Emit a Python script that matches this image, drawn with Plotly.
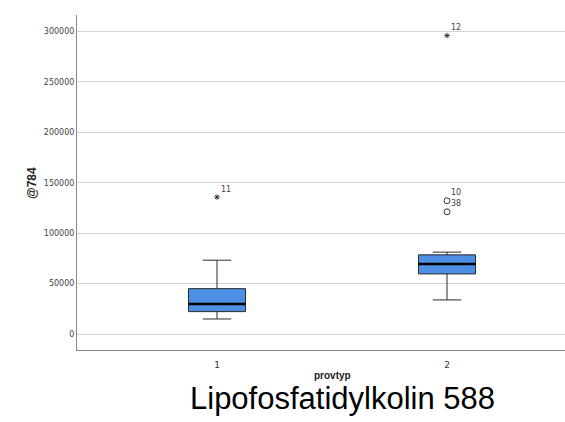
import plotly.graph_objects as go

# ---- data ----
categories = [1, 2]
tick_labels = ["1", "2"]
q1 = [22200, 59600]
median = [29800, 69500]
q3 = [45000, 78500]
lower_whisker = [14900, 33800]
upper_whisker = [73200, 81200]

out_cat = [1, 2, 2, 2]
out_val = [135800, 296000, 132100, 121200]
out_label = ["11", "12", "10", "38"]
out_kind = ["extreme", "extreme", "outlier", "outlier"]

y_title = "@784"
x_title = "provtyp"
main_title = "Lipofosfatidylkolin 588"

# ---- style ----
BOX_W = 0.248
FILL = "#4d8fe2"
W, H = 565, 422
ML, MR, MT, MB = 77, 0, 15, 72

fig = go.Figure()

for c, a, m, b, lo, hi in zip(categories, q1, median, q3, lower_whisker, upper_whisker):
    fig.add_trace(go.Box(
        x=[c], q1=[a], median=[m], q3=[b], lowerfence=[lo], upperfence=[hi],
        width=BOX_W, whiskerwidth=0.5, fillcolor=FILL,
        line=dict(color="#2b2b2b", width=1), boxpoints=False,
        showlegend=False, hoverinfo="skip"))
    # thicker black median line
    fig.add_trace(go.Scatter(
        x=[c - BOX_W / 2, c + BOX_W / 2], y=[m, m], mode="lines",
        line=dict(color="black", width=2.5), showlegend=False, hoverinfo="skip"))

for kind, sym, sz in (("extreme", "asterisk-open", 4.5), ("outlier", "circle-open", 6)):
    xs = [x for x, k in zip(out_cat, out_kind) if k == kind]
    ys = [y for y, k in zip(out_val, out_kind) if k == kind]
    fig.add_trace(go.Scatter(
        x=xs, y=ys, mode="markers",
        marker=dict(symbol=sym, size=sz,
                    color="#333333", line=dict(color="#333333", width=1)),
        showlegend=False, hoverinfo="skip"))

for x, y, t in zip(out_cat, out_val, out_label):
    fig.add_annotation(x=x, y=y, text=t, showarrow=False, xanchor="left",
                       yanchor="middle", xshift=2, yshift=8,
                       font=dict(family="DejaVu Sans", size=8, color="#444444"))

plot_h = H - MT - MB
plot_w = W - ML - MR


def py(ypix):
    return (H - MB - ypix) / plot_h


def px(xpix):
    return (xpix - ML) / plot_w


fig.add_annotation(x=px(32), y=py(183), xref="paper", yref="paper", text=f"<b>{y_title}</b>",
                   textangle=-90, showarrow=False, xanchor="center", yanchor="middle",
                   font=dict(family="Liberation Sans", size=12, color="#222222"))
fig.add_annotation(xref="paper", yref="paper", x=px(332), y=py(375),
                   text=f"<b>{x_title}</b>", showarrow=False, xanchor="center", yanchor="middle",
                   font=dict(family="Liberation Sans", size=10, color="#222222"))
fig.add_annotation(xref="paper", yref="paper", x=px(342), y=py(398),
                   text=main_title, showarrow=False, xanchor="center", yanchor="middle",
                   font=dict(family="Liberation Sans", size=31, color="black"))

fig.update_layout(
    width=W, height=H, margin=dict(l=ML, r=MR, t=MT, b=MB),
    paper_bgcolor="white", plot_bgcolor="white",
    xaxis=dict(range=[0.3913, 2.513], tickmode="array", tickvals=categories,
               ticktext=tick_labels, showgrid=False, zeroline=False,
               showline=True, linecolor="#888888", linewidth=1, ticks="",
               ticklabelstandoff=6,
               tickfont=dict(family="DejaVu Sans", size=9, color="#333333")),
    yaxis=dict(range=[-15870, 316400], tickmode="array",
               tickvals=[0, 50000, 100000, 150000, 200000, 250000, 300000],
               ticktext=["0", "50000", "100000", "150000", "200000", "250000", "300000"],
               showgrid=True, gridcolor="#d4d4d4", gridwidth=1, zeroline=False,
               showline=True, linecolor="#888888", linewidth=1, ticks="",
               ticklen=0, tickfont=dict(family="DejaVu Sans", size=8, color="#444444")),
)

fig.write_html("out.html")
